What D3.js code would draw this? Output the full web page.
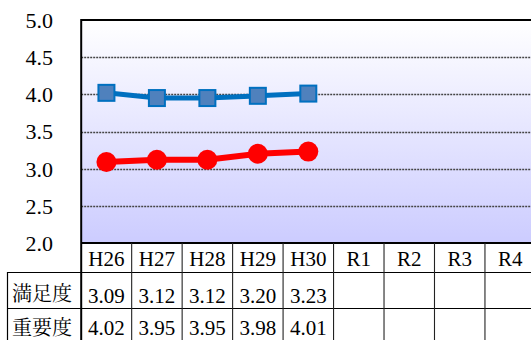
<!DOCTYPE html>
<html>
<head>
<meta charset="utf-8">
<script src="https://cdn.jsdelivr.net/npm/d3@7"></script>
<style>
  html, body { margin: 0; padding: 0; background: #fff; }
  svg { display: block; }
  text { font-family: "Liberation Serif", "Times New Roman", serif; fill: #000; }
  text.cjk { font-family: "Noto Serif CJK JP", "Noto Sans CJK JP", serif; }
</style>
</head>
<body>
<svg id="chart" width="531" height="340"></svg>
<script>
// Survey years (Heisei 26–30, Reiwa 1–4)
const years = ["H26", "H27", "H28", "H29", "H30", "R1", "R2", "R3", "R4"];
// Satisfaction (満足度) and importance (重要度) scores
const satisfaction = [3.09, 3.12, 3.12, 3.20, 3.23];
const importance   = [4.02, 3.95, 3.95, 3.98, 4.01];
const rowLabels = ["満足度", "重要度"];
const yTicks = [2.0, 2.5, 3.0, 3.5, 4.0, 4.5, 5.0];

const svg = d3.select("#chart");
const plotLeft = 81.2, plotTop = 20, plotBottom = 243;
const colW = 50.47;
const plotRight = plotLeft + colW * years.length;

const x = d3.scaleBand().domain(years).range([plotLeft, plotRight]).padding(0);
const y = d3.scaleLinear().domain([2, 5]).range([plotBottom, plotTop]);

// background gradient inside the plot area
const defs = svg.append("defs");
const grad = defs.append("linearGradient").attr("id", "bg")
  .attr("x1", 0).attr("y1", 0).attr("x2", 0).attr("y2", 1);
grad.append("stop").attr("offset", "0%").attr("stop-color", "#ffffff");
grad.append("stop").attr("offset", "100%").attr("stop-color", "#ccccff");
svg.append("rect")
  .attr("x", plotLeft).attr("y", plotTop)
  .attr("width", plotRight - plotLeft).attr("height", plotBottom - plotTop)
  .attr("fill", "url(#bg)");

// dotted gridlines
svg.append("g").selectAll("line")
  .data(yTicks.filter(t => t > 2 && t < 5))
  .join("line")
  .attr("x1", plotLeft).attr("x2", plotRight)
  .attr("y1", d => Math.round(y(d)) + 0.5).attr("y2", d => Math.round(y(d)) + 0.5)
  .attr("stroke", "#444").attr("stroke-width", 1.3).attr("stroke-dasharray", "2,1");

// y axis labels
const yAxis = d3.axisLeft(y).tickValues(yTicks).tickFormat(d3.format(".1f")).tickSize(0).tickPadding(0);
const gy = svg.append("g").attr("transform", "translate(53,0)").call(yAxis);
gy.attr("font-family", null).attr("font-size", null);
gy.select(".domain").remove();
gy.selectAll("text")
  .attr("font-size", 22).attr("dy", "0.34em").attr("fill", "#000");

// plot frame: top, left, bottom
svg.append("line").attr("x1", plotLeft).attr("x2", plotRight).attr("y1", plotTop).attr("y2", plotTop)
  .attr("stroke", "#000").attr("stroke-width", 2.2);
svg.append("line").attr("x1", plotLeft).attr("x2", plotLeft).attr("y1", plotTop - 1).attr("y2", 340)
  .attr("stroke", "#000").attr("stroke-width", 2);
svg.append("line").attr("x1", plotLeft).attr("x2", plotRight).attr("y1", plotBottom).attr("y2", plotBottom)
  .attr("stroke", "#000").attr("stroke-width", 2);

// data table below the plot
const tableLeft = 7;
const tg = svg.append("g");
// horizontal lines
[272, 308].forEach(yy => {
  tg.append("line").attr("x1", tableLeft).attr("x2", plotRight)
    .attr("y1", yy + 0.5).attr("y2", yy + 0.5).attr("stroke", "#000").attr("stroke-width", 1.2);
});
// left border of row labels
tg.append("line").attr("x1", tableLeft + 0.5).attr("x2", tableLeft + 0.5)
  .attr("y1", 272).attr("y2", 340).attr("stroke", "#000").attr("stroke-width", 1.2);
// column separators
tg.selectAll("line.col").data(years.slice(1)).join("line").attr("class", "col")
  .attr("x1", d => x(d)).attr("x2", d => x(d))
  .attr("y1", plotBottom).attr("y2", 340)
  .attr("stroke", "#222").attr("stroke-width", 1.1);

// header texts
tg.selectAll("text.hdr").data(years).join("text").attr("class", "hdr")
  .attr("x", d => x(d) + x.bandwidth() / 2).attr("y", 266)
  .attr("text-anchor", "middle").attr("font-size", 21).text(d => d);

// row labels
tg.selectAll("text.rl").data(rowLabels).join("text").attr("class", "rl cjk")
  .attr("x", 42).attr("y", (d, i) => [301, 335][i])
  .attr("text-anchor", "middle").attr("font-size", 20).text(d => d);

// values
const fmt = d3.format(".2f");
[satisfaction, importance].forEach((arr, r) => {
  tg.selectAll("text.v" + r).data(arr).join("text").attr("class", "v" + r)
    .attr("x", (d, i) => x(years[i]) + x.bandwidth() / 2)
    .attr("y", [303, 335][r])
    .attr("text-anchor", "middle").attr("font-size", 21).text(d => fmt(d));
});

const cx = (d, i) => x(years[i]) + x.bandwidth() / 2;
const line = d3.line().x(cx).y(d => y(d));

// importance series: blue line with square markers
svg.append("path").datum(importance).attr("d", line)
  .attr("fill", "none").attr("stroke", "#0070c0").attr("stroke-width", 5);
svg.append("g").selectAll("rect").data(importance).join("rect")
  .attr("x", (d, i) => cx(d, i) - 8).attr("y", d => y(d) - 8)
  .attr("width", 16).attr("height", 16)
  .attr("fill", "#4f81bd").attr("stroke", "#0070c0").attr("stroke-width", 2);

// satisfaction series: red line with circle markers
svg.append("path").datum(satisfaction).attr("d", line)
  .attr("fill", "none").attr("stroke", "#ff0000").attr("stroke-width", 6);
svg.append("g").selectAll("circle").data(satisfaction).join("circle")
  .attr("cx", cx).attr("cy", d => y(d)).attr("r", 10)
  .attr("fill", "#ff0000");
</script>
</body>
</html>
